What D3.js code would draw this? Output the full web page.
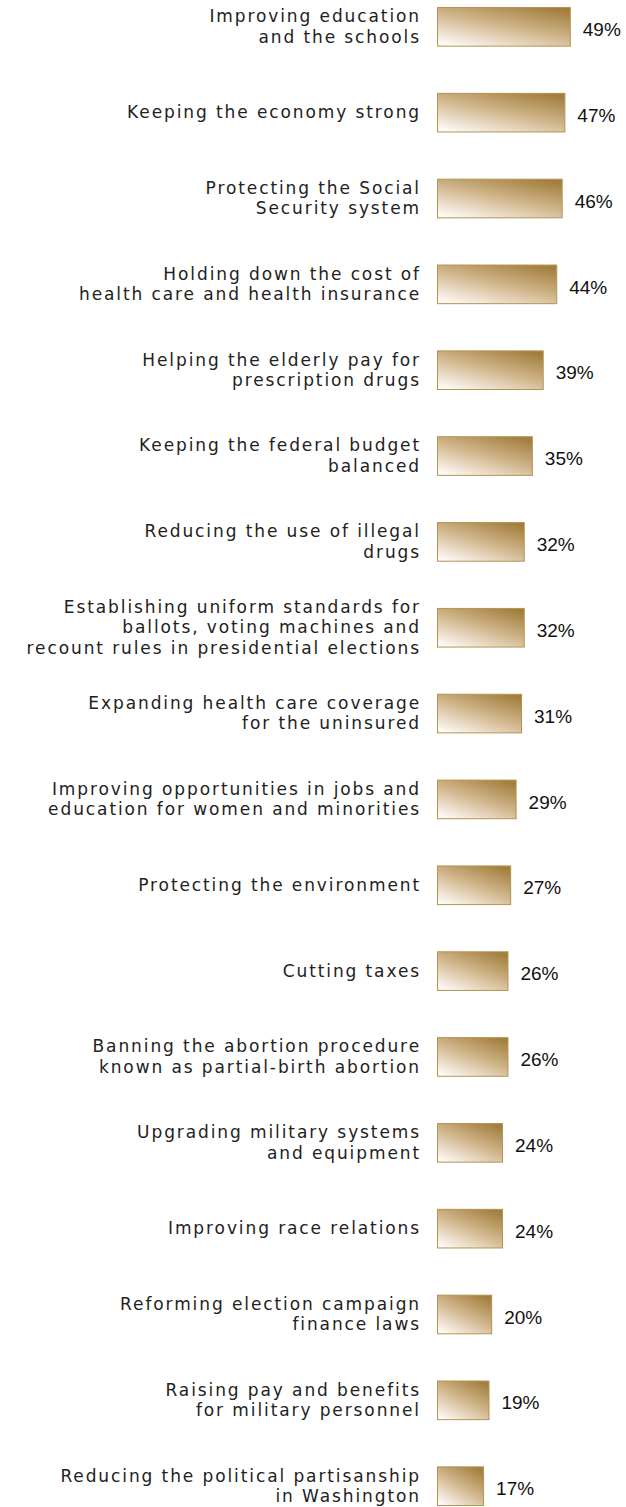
<!DOCTYPE html>
<html>
<head>
<meta charset="utf-8">
<script src="https://cdn.jsdelivr.net/npm/d3@7"></script>
<style>
  body { margin: 0; background: #fff; }
  .cat { font-family: "DejaVu Sans", sans-serif; font-size: 17px; letter-spacing: 1.9px; fill: #222; }
  .val { font-family: "Liberation Sans", Arial, sans-serif; font-size: 19px; fill: #111; }
</style>
</head>
<body>
<div id="chart"></div>
<script>
// categories (each entry = label lines) and values in %
const labels = [
  ["Improving education", "and the schools"],
  ["Keeping the economy strong"],
  ["Protecting the Social", "Security system"],
  ["Holding down the cost of", "health care and health insurance"],
  ["Helping the elderly pay for", "prescription drugs"],
  ["Keeping the federal budget", "balanced"],
  ["Reducing the use of illegal", "drugs"],
  ["Establishing uniform standards for", "ballots, voting machines and", "recount rules in presidential elections"],
  ["Expanding health care coverage", "for the uninsured"],
  ["Improving opportunities in jobs and", "education for women and minorities"],
  ["Protecting the environment"],
  ["Cutting taxes"],
  ["Banning the abortion procedure", "known as partial-birth abortion"],
  ["Upgrading military systems", "and equipment"],
  ["Improving race relations"],
  ["Reforming election campaign", "finance laws"],
  ["Raising pay and benefits", "for military personnel"],
  ["Reducing the political partisanship", "in Washington"]
];
const values = [49, 47, 46, 44, 39, 35, 32, 32, 31, 29, 27, 26, 26, 24, 24, 20, 19, 17];

const width = 626;
const height = 1507;

const svg = d3.select("#chart")
  .append("svg")
    .attr("width", width)
    .attr("height", height);

// gradient: pale at bottom-left, dark gold at top-right
const grad = svg.append("defs")
  .append("linearGradient")
    .attr("id", "gold")
    .attr("x1", 0.15).attr("y1", 1)
    .attr("x2", 0.85).attr("y2", 0);
grad.append("stop").attr("offset", "0%").attr("stop-color", "#fcf8f4");
grad.append("stop").attr("offset", "50%").attr("stop-color", "#d2b78e");
grad.append("stop").attr("offset", "100%").attr("stop-color", "#a27e3c");

const idx = d3.range(values.length);

const y = d3.scaleBand()
  .domain(idx)
  .range([7, 1505])
  .paddingInner(0.55)
  .paddingOuter(0);

const x = d3.scaleLinear()
  .domain([0, 100])
  .range([437, 708]);

const row = svg.selectAll(".row")
  .data(idx)
  .enter()
  .append("g")
    .attr("class", "row");

row.append("rect")
  .attr("x", x(0) + 0.5)
  .attr("y", i => y(i) + 0.5)
  .attr("width", i => x(values[i]) - x(0))
  .attr("height", y.bandwidth())
  .attr("fill", "url(#gold)")
  .attr("stroke", "#b39450")
  .attr("stroke-width", 1);

row.append("text")
  .attr("class", "val")
  .attr("x", i => x(values[i]) + 13)
  .attr("y", i => y(i) + y.bandwidth() / 2 + 3)
  .attr("dy", "0.35em")
  .text(i => values[i] + "%");

const lineH = 20.5;
row.append("text")
  .attr("class", "cat")
  .attr("text-anchor", "end")
  .each(function (i) {
    const lines = labels[i];
    const mid = y(i) + y.bandwidth() / 2;
    const first = mid - (lines.length - 1) * lineH / 2;
    d3.select(this).selectAll("tspan")
      .data(lines)
      .enter()
      .append("tspan")
        .attr("x", 421)
        .attr("y", (d, k) => first + k * lineH)
        .attr("dy", "0.36em")
        .text(d => d);
  });
</script>
</body>
</html>
